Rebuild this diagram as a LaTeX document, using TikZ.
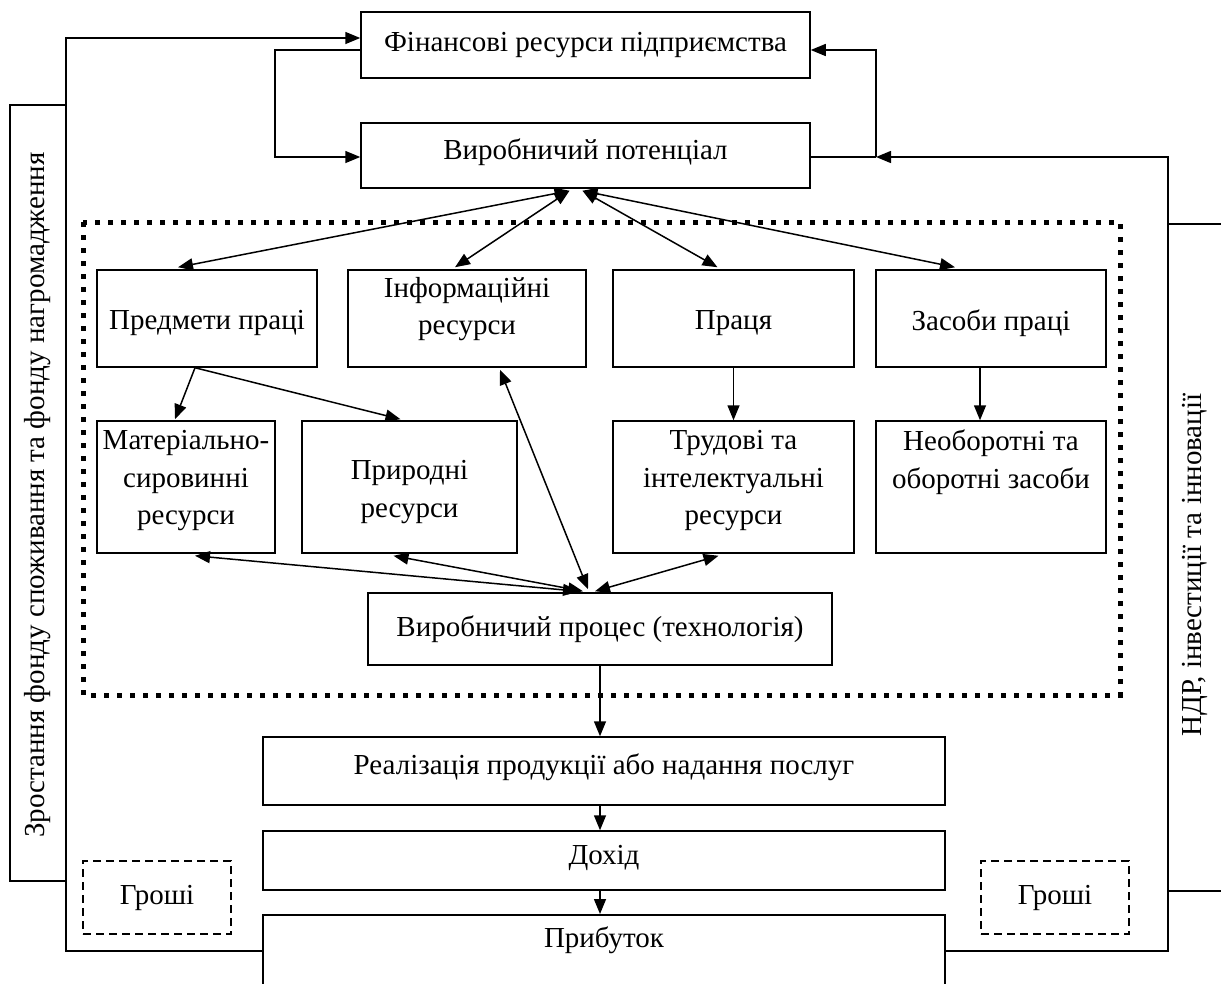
\documentclass[tikz,border=0pt]{standalone}
\usepackage{fontspec}
\setmainfont{Liberation Serif}
\usetikzlibrary{arrows.meta,calc}
\tikzset{
  box/.style={draw, line width=1.5pt, inner sep=0pt, align=center},
  txt/.style={align=center, inner sep=0pt},
  conn/.style={line width=1.5pt},
  dotbox/.style={line width=5pt, dash pattern=on 5pt off 8pt},
  dashbox/.style={draw, line width=1.5pt, dash pattern=on 8pt off 5pt, inner sep=0pt},
  >={Triangle[length=15pt,width=12pt]}
}
\begin{document}
\begin{tikzpicture}[x=1pt,y=-1pt,font=\fontsize{29}{37.5}\selectfont]
\useasboundingbox (0,0) rectangle (1221,983);
\clip (0,0) rectangle (1221,983);
% main boxes
\node[box, minimum width=449pt, minimum height=66pt] (fin) at (585.5,45) {Фінансові ресурси підприємства};
\node[box, minimum width=449pt, minimum height=65pt] (pot) at (585.5,155.5) {};
\node[txt] (pott) at (585.5,152) {Виробничий потенціал};
% dotted frame
\draw[dotbox] (83,222) rectangle (1120,695);
% row 1
\node[box, minimum width=220pt, minimum height=97pt] (pred) at (207,318.5) {};
\node[txt] (predt) at (207,323) {Предмети праці};
\node[box, minimum width=238pt, minimum height=97pt] (info) at (467,318.5) {};
\node[txt] (infot) at (467,309) {Інформаційні\\ресурси};
\node[box, minimum width=241pt, minimum height=97pt] (prac) at (733.5,318.5) {};
\node[txt] (pract) at (733.5,323) {Праця};
\node[box, minimum width=230pt, minimum height=97pt] (zas) at (991,318.5) {};
\node[txt] (zast) at (991,323) {Засоби праці};
% row 2
\node[box, minimum width=178pt, minimum height=132pt] (mat) at (186,487) {};
\node[txt] (matt) at (186,481) {Матеріально-\\сировинні\\ресурси};
\node[box, minimum width=215pt, minimum height=132pt] (pryr) at (409.5,487) {};
\node[txt] (pryrt) at (409.5,492) {Природні\\ресурси};
\node[box, minimum width=241pt, minimum height=132pt] (trud) at (733.5,487) {};
\node[txt] (trudt) at (733.5,481) {Трудові та\\інтелектуальні\\ресурси};
\node[box, minimum width=230pt, minimum height=132pt] (neob) at (991,487) {};
\node[txt] (neobt) at (991,462) {Необоротні та\\оборотні засоби};
% process
\node[box, minimum width=464pt, minimum height=72pt] (proc) at (600,629) {Виробничий процес (технологія)};
% bottom chain
\node[box, minimum width=682pt, minimum height=68pt] (real) at (604,771) {};
\node[txt] (realt) at (604,767) {Реалізація продукції або надання послуг};
\node[box, minimum width=682pt, minimum height=59pt] (doh) at (604,860.5) {};
\node[txt] (doht) at (604,858) {Дохід};
\node[box, minimum width=682pt, minimum height=120pt, anchor=north] (prib) at (604,914) {};
\node[txt] (pribt) at (604,940) {Прибуток};
% money boxes
\node[dashbox, minimum width=148pt, minimum height=73pt] (grL) at (157,897.5) {Гроші};
\node[dashbox, minimum width=148pt, minimum height=73pt] (grR) at (1055,897.5) {Гроші};
% side boxes
\node[box, minimum width=56pt, minimum height=776pt] (lbox) at (38,493) {};
\node[txt, rotate=90] (ltxt) at (38,495) {Зростання фонду споживання та фонду нагромадження};
\coordinate (rtl) at (1168,224);
\coordinate (rbl) at (1168,891);
\draw[conn] (1240,224) -- (rtl);
\draw[conn] (1240,891) -- (rbl);
\node[txt, rotate=90] (rtxt) at (1195,565) {НДР, інвестиції та інновації};
% loop connectors
\coordinate (lc) at (66,38);
\draw[conn,->] ($(prib.north west)+(0,37)$) -| (lc) -- ($(fin.west)+(0,-7)$);
\coordinate (fl) at (275,50);
\draw[conn,->] ($(fin.west)+(0,5)$) -- (fl) |- ($(pot.west)+(0,1.5)$);
\coordinate (pr) at (876,157);
\draw[conn] ($(pot.east)+(0,1.5)$) -- (pr);
\draw[conn,->] (pr) |- ($(fin.east)+(0,5)$);
\coordinate (rc) at (1168,157);
\draw[conn,->] ($(prib.north east)+(0,37)$) -| (rc) -- (pr);
% potential to row 1
\draw[conn,<->] ($(pot.south)+(-16,2)$) -- ($(pred.north)+(-29,-2)$);
\draw[conn,<->] ($(pot.south)+(-16,2)$) -- ($(info.north)+(-12,-2)$);
\draw[conn,<->] ($(pot.south)+(-3,2)$) -- ($(prac.north)+(-16,-2)$);
\draw[conn,<->] ($(pot.south)+(-3,2)$) -- ($(zas.north)+(-36,-2)$);
% row1 to row2
\draw[conn,->] ($(pred.south)+(-12,0)$) -- ($(mat.north)+(-11,-1)$);
\draw[conn,->] ($(pred.south)+(-12,0)$) -- ($(pryr.north)+(-9,-1)$);
\draw[conn,->] (prac.south) -- (trud.north);
\draw[conn,->] ($(zas.south)+(-11,0)$) -- ($(neob.north)+(-11,0)$);
% to process
\draw[conn,<->] ($(info.south)+(33,2)$) -- ($(proc.north)+(-12,-3)$);
\draw[conn,<->] ($(mat.south)+(9,2)$) -- ($(proc.north)+(-22,-1)$);
\draw[conn,<->] ($(pryr.south)+(-16,2)$) -- ($(proc.north)+(-17,-1)$);
\draw[conn,<->] ($(trud.south)+(-15,2)$) -- ($(proc.north)+(-5,-1)$);
% chain
\draw[conn,->] (proc.south) -- (proc.south |- real.north);
\draw[conn,->] (proc.south |- real.south) -- (proc.south |- doh.north);
\draw[conn,->] (proc.south |- doh.south) -- (proc.south |- prib.north);
\end{tikzpicture}
\end{document}
